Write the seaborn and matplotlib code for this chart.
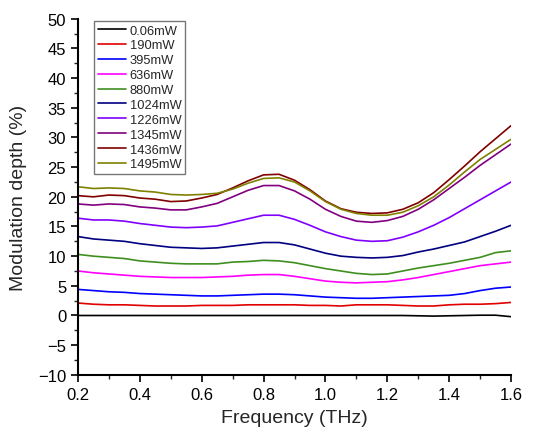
import numpy as np
import pandas as pd
import matplotlib.pyplot as plt
import seaborn as sns
from matplotlib.ticker import MultipleLocator

# Frequency grid (THz)
freq = [0.20, 0.25, 0.30, 0.35, 0.40, 0.45, 0.50, 0.55, 0.60, 0.65, 0.70, 0.75, 0.80, 0.85,
        0.90, 0.95, 1.00, 1.05, 1.10, 1.15, 1.20, 1.25, 1.30, 1.35, 1.40, 1.45, 1.50, 1.55, 1.60]

# Modulation depth (%) for each pump power
p0006 = [0.0, 0.0, 0.0, 0.0, 0.0, 0.0, 0.0, 0.0, 0.0, 0.0, 0.0, 0.0, 0.0, 0.0,
         0.0, 0.0, 0.0, 0.0, 0.0, 0.0, 0.0, 0.0, -0.05, -0.1, -0.05, 0.0, 0.05, 0.05, -0.2]
p190 = [2.1, 1.9, 1.8, 1.8, 1.7, 1.6, 1.6, 1.6, 1.7, 1.7, 1.7, 1.8, 1.8, 1.8,
        1.8, 1.7, 1.7, 1.6, 1.8, 1.8, 1.8, 1.7, 1.6, 1.6, 1.8, 1.9, 1.9, 2.0, 2.2]
p395 = [4.4, 4.2, 4.0, 3.9, 3.7, 3.6, 3.5, 3.4, 3.3, 3.3, 3.4, 3.5, 3.6, 3.6,
        3.5, 3.3, 3.1, 3.0, 2.9, 2.9, 3.0, 3.1, 3.2, 3.3, 3.4, 3.7, 4.2, 4.6, 4.8]
p636 = [7.5, 7.2, 7.0, 6.8, 6.6, 6.5, 6.4, 6.4, 6.4, 6.5, 6.6, 6.8, 6.9, 6.9,
        6.6, 6.2, 5.8, 5.6, 5.5, 5.6, 5.7, 6.0, 6.4, 6.9, 7.4, 7.9, 8.4, 8.7, 9.0]
p880 = [10.3, 10.0, 9.8, 9.6, 9.2, 9.0, 8.8, 8.7, 8.7, 8.7, 9.0, 9.1, 9.3, 9.2,
        8.9, 8.4, 7.9, 7.5, 7.1, 6.9, 7.0, 7.5, 8.0, 8.4, 8.8, 9.3, 9.8, 10.6, 10.9]
p1024 = [13.3, 12.9, 12.7, 12.5, 12.1, 11.8, 11.5, 11.4, 11.3, 11.4, 11.7, 12.0, 12.3, 12.3,
         11.9, 11.2, 10.5, 10.0, 9.8, 9.7, 9.8, 10.1, 10.7, 11.2, 11.8, 12.4, 13.3, 14.2, 15.2]
p1226 = [16.4, 16.1, 16.1, 15.9, 15.5, 15.2, 14.9, 14.8, 14.9, 15.1, 15.7, 16.3, 16.9, 16.9,
         16.2, 15.2, 14.1, 13.3, 12.7, 12.5, 12.6, 13.2, 14.1, 15.2, 16.5, 18.0, 19.5, 21.0, 22.5]
p1345 = [18.8, 18.6, 18.8, 18.7, 18.3, 18.1, 17.8, 17.8, 18.3, 18.9, 20.0, 21.1, 21.9, 21.9,
         21.0, 19.6, 17.9, 16.7, 15.9, 15.7, 16.0, 16.7, 17.9, 19.5, 21.4, 23.3, 25.3, 27.1, 28.9]
p1436 = [20.2, 20.0, 20.3, 20.2, 19.8, 19.6, 19.2, 19.3, 19.8, 20.4, 21.5, 22.7, 23.7, 23.8,
         22.8, 21.2, 19.3, 18.0, 17.4, 17.2, 17.3, 17.9, 19.0, 20.7, 22.9, 25.2, 27.6, 29.8, 32.0]
p1495 = [21.7, 21.4, 21.5, 21.4, 21.0, 20.8, 20.4, 20.3, 20.4, 20.6, 21.3, 22.3, 23.1, 23.2,
         22.5, 21.0, 19.2, 17.9, 17.2, 16.9, 16.9, 17.4, 18.5, 20.0, 22.0, 24.2, 26.3, 28.0, 29.7]

labels = ['0.06mW', '190mW', '395mW', '636mW', '880mW', '1024mW', '1226mW', '1345mW', '1436mW', '1495mW']
series = [p0006, p190, p395, p636, p880, p1024, p1226, p1345, p1436, p1495]
colors = ['#000000', '#e00000', '#0000ff', '#ff00ff', '#3f8f1f', '#000080',
          '#8000ff', '#800080', '#800000', '#808000']

# long format table for seaborn
rows = []
for lab, vals in zip(labels, series):
    for f, v in zip(freq, vals):
        rows.append({'Frequency': f, 'Depth': v, 'Power': lab})
df = pd.DataFrame(rows)

sns.set_style('ticks')
plt.rcParams['font.family'] = ['Liberation Sans', 'DejaVu Sans']

fig = plt.figure(figsize=(5.34, 4.31), dpi=100)
ax = fig.add_axes([0.146, 0.128, 0.811, 0.826])

sns.lineplot(data=df, x='Frequency', y='Depth', hue='Power', hue_order=labels,
             palette=colors, linewidth=1.2, ax=ax)

ax.set_xlim(0.2, 1.6)
ax.set_ylim(-10, 50)
ax.xaxis.set_major_locator(MultipleLocator(0.2))
ax.xaxis.set_minor_locator(MultipleLocator(0.1))
ax.yaxis.set_major_locator(MultipleLocator(5))
ax.yaxis.set_minor_locator(MultipleLocator(2.5))
ax.set_xticklabels([f'{v:.1f}' for v in ax.get_xticks()])
ax.tick_params(which='major', length=5, width=1.2, labelsize=12, colors='black')
ax.tick_params(which='minor', length=3, width=1.0)
ax.set_xlabel('Frequency (THz)', fontsize=14, labelpad=5)
ax.set_ylabel('Modulation depth (%)', fontsize=14, labelpad=8)
for s in ['left', 'bottom']:
    ax.spines[s].set_linewidth(1.5)
    ax.spines[s].set_color('black')
sns.despine(ax=ax)

leg = ax.legend(loc='upper left', bbox_to_anchor=(0.037, 0.995), fontsize=9.3,
                frameon=True, fancybox=False, handlelength=2.2, handletextpad=0.25,
                labelspacing=0.22, borderpad=0.3, borderaxespad=0.0)
leg.get_frame().set_edgecolor('#555555')
leg.get_frame().set_linewidth(1.0)

fig.savefig('out.png', dpi=100)
